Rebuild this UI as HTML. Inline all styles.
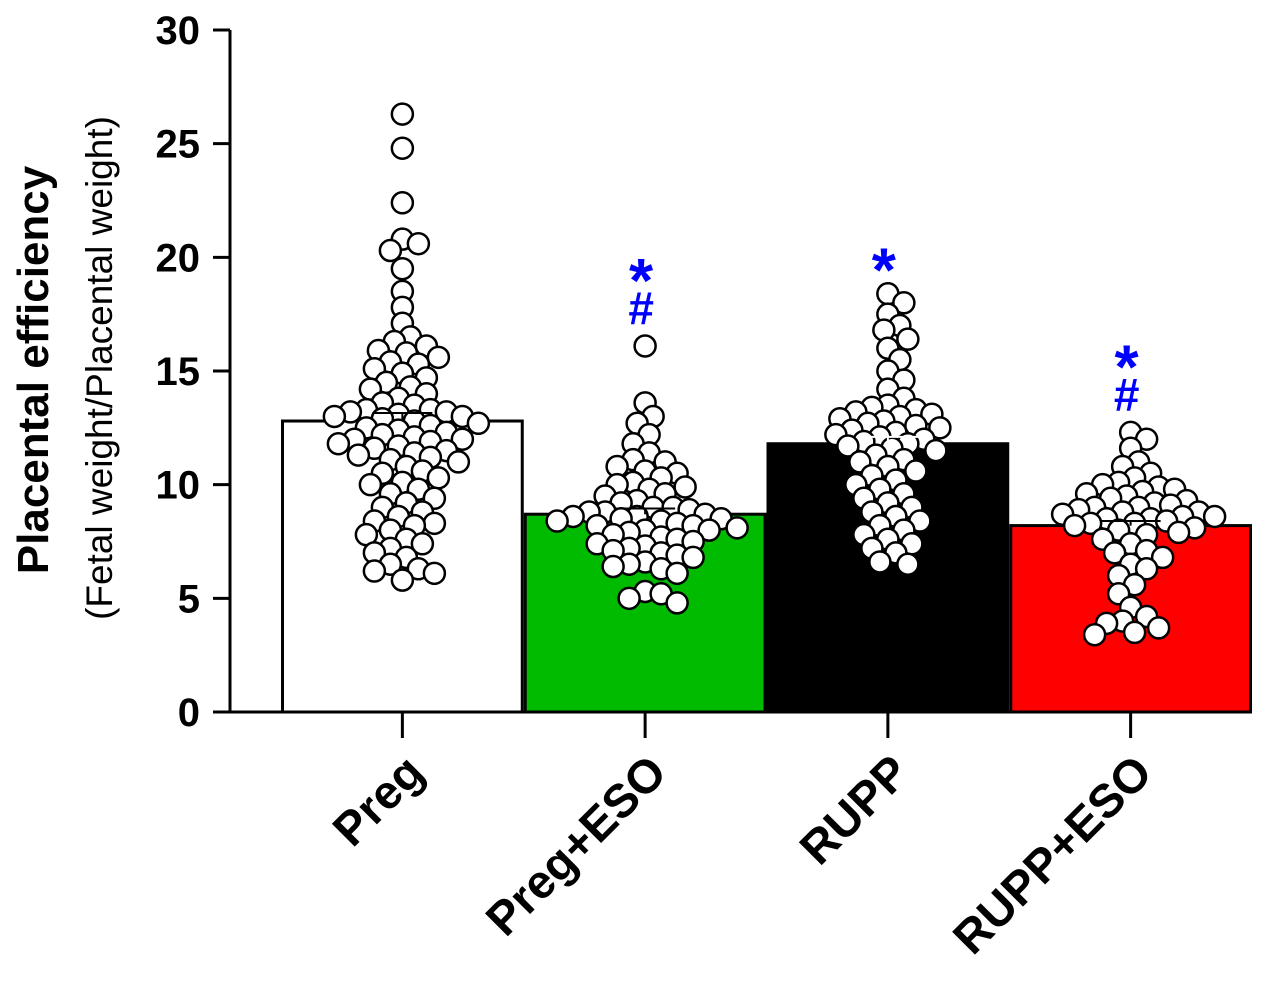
<!DOCTYPE html>
<html><head><meta charset="utf-8"><style>
html,body{margin:0;padding:0;background:#fff;}
svg{display:block;font-family:"Liberation Sans",Arial,sans-serif;}
</style></head><body>
<svg id="chart" width="1271" height="1000" viewBox="0 0 1271 1000">
<g id="bars"></g><g id="dots"></g><g id="axes"></g>
</svg>
<script>
const categories = ["Preg","Preg+ESO","RUPP","RUPP+ESO"];
const means = [12.8, 8.7, 11.8, 8.2];
const sems = [0.35, 0.25, 0.3, 0.2];
const barColors = ["#ffffff","#00bb00","#000000","#ff0000"];
const yTicks = [0,5,10,15,20,25,30];
const pregVals = [26.3,24.8,22.4,20.8,20.6,20.3,19.5,18.5,17.8,17.1,16.5,16.3,16.1,15.9,15.8,15.6,15.4,15.3,15.1,14.9,14.7,14.5,14.3,14.2,14.0,13.8,13.6,13.5,13.3,13.3,13.2,13.2,13.1,13.0,13.0,12.9,12.8,12.7,12.6,12.5,12.4,12.3,12.2,12.1,12.0,12.0,11.9,11.8,11.7,11.6,11.5,11.4,11.3,11.2,11.1,11.0,10.8,10.6,10.5,10.3,10.1,10.0,9.8,9.6,9.4,9.2,9.0,8.8,8.6,8.4,8.3,8.2,8.0,7.8,7.6,7.4,7.2,7.0,6.8,6.5,6.3,6.2,6.1,5.8];
const pregEsoVals = [16.1,13.6,13.0,12.7,12.2,11.8,11.4,11.1,11.0,10.8,10.6,10.5,10.3,10.1,10.0,9.9,9.8,9.6,9.5,9.3,9.2,9.0,9.0,8.9,8.8,8.8,8.7,8.6,8.6,8.5,8.5,8.4,8.4,8.3,8.2,8.2,8.1,8.0,8.0,7.9,7.8,7.7,7.6,7.5,7.4,7.3,7.2,7.1,7.0,6.9,6.8,6.6,6.5,6.4,6.3,6.1,5.3,5.2,5.0,4.8];
const ruppVals = [18.4,18.0,17.5,17.0,16.8,16.4,16.0,15.5,15.0,14.6,14.2,13.8,13.5,13.4,13.3,13.2,13.1,13.0,12.9,12.8,12.7,12.6,12.5,12.4,12.3,12.2,12.1,12.0,11.9,11.8,11.7,11.6,11.5,11.3,11.1,11.0,10.8,10.6,10.4,10.2,10.0,9.8,9.6,9.4,9.2,9.0,8.8,8.6,8.4,8.2,8.0,7.8,7.6,7.4,7.2,7.0,6.6,6.5];
const ruppEsoVals = [12.3,12.0,11.6,11.0,10.8,10.5,10.3,10.1,10.0,9.9,9.8,9.7,9.6,9.5,9.4,9.3,9.2,9.1,9.0,9.0,8.9,8.8,8.8,8.7,8.6,8.6,8.5,8.5,8.4,8.3,8.3,8.2,8.1,8.0,7.9,7.8,7.6,7.4,7.1,7.0,6.8,6.5,6.3,6.0,5.6,5.2,4.6,4.2,4.0,3.9,3.7,3.5,3.4];
const groupVals = [pregVals, pregEsoVals, ruppVals, ruppEsoVals];
const starText = [[],["*","#"],["*"],["*","#"]];

const NS="http://www.w3.org/2000/svg";
const x0=230, x1=1252, yBase=712, yTop=30;
const yS=v=>yBase-(v/30)*(yBase-yTop);
const bwid=(x1-281)/4;
const barLeft=i=>281+i*bwid;
const cx=i=>barLeft(i)+bwid/2;
function mk(tag,attrs,parent){const e=document.createElementNS(NS,tag);for(const k in attrs)e.setAttribute(k,attrs[k]);parent.appendChild(e);return e;}
const gB=document.getElementById('bars'),gD=document.getElementById('dots'),gA=document.getElementById('axes');
categories.forEach((c,i)=>{
  const r=mk('rect',{x:barLeft(i)+1.5,y:yS(means[i]),width:bwid-3,height:yBase-yS(means[i]),fill:barColors[i],stroke:'#000','stroke-width':3},gB);
  
  
});
const R=10.5;
groupVals.forEach((vals,i)=>{
  const placed=[];
  const sorted=[...vals].sort((a,b)=>b-a);
  sorted.forEach(v=>{
    const y=yS(v);let best=0;
    for(let k=0;k<80;k++){
      const off=(k%2?1:-1)*Math.ceil(k/2)*4;
      if(placed.every(p=>Math.hypot(p[0]-off,p[1]-y)>=R*1.5)){best=off;break;}
    }
    placed.push([best,y]);
    const c=mk('circle',{cx:cx(i)+best,cy:y,r:R,fill:'#fff',stroke:'#000','stroke-width':2.5},gD);
    
    
  });
  const e=mk('path',{d:`M${cx(i)-30},${yS(means[i]+sems[i])}H${cx(i)+30}M${cx(i)},${yS(means[i]+sems[i])}V${yS(means[i])}`,stroke:i==2?'#fff':'#000','stroke-width':2,fill:'none'},gD);
  
  
  const maxV=Math.max(...vals);
  starText[i].forEach((s,j)=>{
    const n=starText[i].length;
    const t=mk('text',{x:cx(i)-4,y:yS(maxV)-22-(n-1-j)*42+(s=='*'?20:0),'text-anchor':'middle',fill:'#0000ff','font-size':s=='*'?62:46,'font-weight':'bold'},gA);
    t.textContent=s;
    
    
  });
});
const ax=mk('path',{d:`M${x0},${yTop}V${yBase}H${x1}`,stroke:'#000','stroke-width':3,fill:'none'},gA);


yTicks.forEach(t=>{
  const y=yS(t);
  const l=mk('line',{x1:213,x2:x0,y1:y,y2:y,stroke:'#000','stroke-width':3},gA);
  
  
  const tx=mk('text',{x:200,y:y+14,'text-anchor':'end','font-size':40,'font-weight':'bold'},gA);
  tx.textContent=t;
  
  
});
categories.forEach((c,i)=>{
  const x=cx(i);
  const l=mk('line',{x1:x,x2:x,y1:yBase,y2:738,stroke:'#000','stroke-width':3},gA);
  
  
  const t=mk('text',{x:x+24,y:775,'text-anchor':'end','font-size':47,'font-weight':'bold',transform:`rotate(-45 ${x+24} 775)`},gA);
  t.textContent=c;
  
  
});
const t1=mk('text',{x:0,y:0,'text-anchor':'middle','font-size':44,'font-weight':'bold',transform:'translate(48,370) rotate(-90)'},gA);
t1.textContent='Placental efficiency';


const t2=mk('text',{x:0,y:0,'text-anchor':'middle','font-size':37,transform:'translate(112,368) rotate(-90)'},gA);
t2.textContent='(Fetal weight/Placental weight)';


</script>
</body></html>
